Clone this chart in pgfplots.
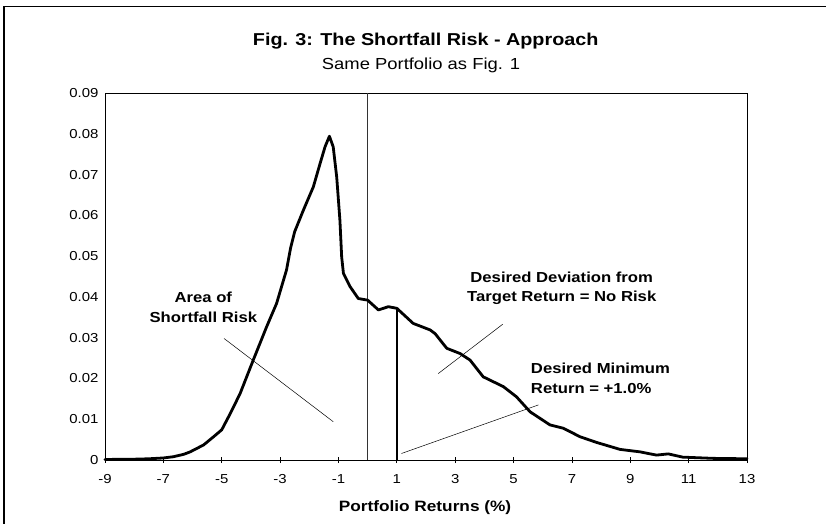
\documentclass[border=0pt]{standalone}
\usepackage{fontspec}
\setmainfont[FakeStretch=1.15]{Liberation Sans}
\usepackage{pgfplots}
\pgfplotsset{compat=1.18}
\pgfplotstableread{
x y
-9 0.0001
-8.5 0.0002
-8 0.0002
-7.5 0.0003
-7 0.0005
-6.66 0.0008
-6.3 0.0014
-6.08 0.002
-5.62 0.0037
-5.28 0.0057
-5 0.0074
-4.7 0.0115
-4.37 0.0163
-3.92 0.0245
-3.46 0.0327
-3.12 0.0384
-2.78 0.0466
-2.64 0.0520
-2.5 0.0560
-2.2 0.0613
-1.86 0.067
-1.63 0.0727
-1.46 0.0768
-1.31 0.0794
-1.18 0.0768
-1.06 0.0694
-0.95 0.0588
-0.89 0.0498
-0.83 0.0458
-0.6 0.0425
-0.32 0.0396
0 0.0392
0.37 0.0368
0.71 0.0376
1 0.0372
1.56 0.0335
2.14 0.0319
2.31 0.031
2.71 0.0274
3.17 0.0261
3.51 0.0245
3.96 0.0204
4.65 0.018
5.1 0.0155
5.57 0.0118
6.25 0.0086
6.7 0.0078
7.28 0.0057
7.85 0.0043
8.65 0.0026
9.33 0.002
9.9 0.0012
10.3 0.0015
10.8 0.0007
11.85 0.0004
13 0.0003
}\density
\begin{document}
\begin{tikzpicture}[x=1pt,y=1pt]
\useasboundingbox (0,0) rectangle (826,523);
\draw[line width=1.4pt] (4,-30) rectangle (860,516.5);
\node[anchor=base,font=\bfseries\fontsize{17.2}{20}\selectfont] at (425.7,477.3) {Fig. 3: The Shortfall Risk - Approach};
\node[anchor=base,font=\fontsize{16}{18}\selectfont] at (421,453) {Same Portfolio as Fig. 1};
\node[anchor=base,font=\bfseries\fontsize{15}{18}\selectfont] at (425,11.3) {Portfolio Returns (\%)};
\begin{axis}[
  at={(105pt,63pt)}, anchor=south west,
  scale only axis, width=642pt, height=367pt,
  xmin=-9, xmax=13, ymin=0, ymax=0.09,
  scaled y ticks=false,
  xtick={-9,-7,-5,-3,-1,1,3,5,7,9,11,13},
  xticklabels={-9,-7,-5,-3,-1,1,3,5,7,9,11,13},
  ytick={0,0.01,0.02,0.03,0.04,0.05,0.06,0.07,0.08,0.09},
  yticklabels={0,0.01,0.02,0.03,0.04,0.05,0.06,0.07,0.08,0.09},
  xtick pos=left, ytick pos=left,
  xtick align=center, ytick align=inside,
  major tick length=6pt,
  ytick style={draw=none},
  axis line style={line width=0.9pt},
  tick style={line width=0.8pt, black},
  ticklabel style={font=\fontsize{13}{15}\selectfont},
  xticklabel style={yshift=-8pt},
  yticklabel style={xshift=-3pt},
  clip=false,
]
\addplot[line width=0.5pt, black!80] coordinates {(0,0) (0,0.09)};
\addplot[line width=2pt, black] coordinates {(1,0) (1,0.0372)};
\addplot[line width=2.8pt, black, line join=round, line cap=round] table[x=x,y=y] {\density};
\addplot[line width=0.5pt, black] coordinates {(-4.92,0.0298) (-1.18,0.0094)};
\addplot[line width=0.5pt, black] coordinates {(2.42,0.0212) (4.63,0.0333)};
\addplot[line width=0.5pt, black] coordinates {(1.16,0.0016) (5.85,0.0135)};
\node[align=center,font=\bfseries\fontsize{14.5}{19.5}\selectfont] at (axis cs:-5.63,0.0374) {Area of\\Shortfall Risk};
\node[align=center,font=\bfseries\fontsize{14.5}{19.5}\selectfont] at (axis cs:6.65,0.0421) {Desired Deviation from\\Target Return = No Risk};
\node[anchor=west,align=left,font=\bfseries\fontsize{14.5}{19.5}\selectfont,inner xsep=0pt] at (axis cs:5.59,0.020) {Desired Minimum\\Return = +1.0\%};
\end{axis}
\end{tikzpicture}
\end{document}
